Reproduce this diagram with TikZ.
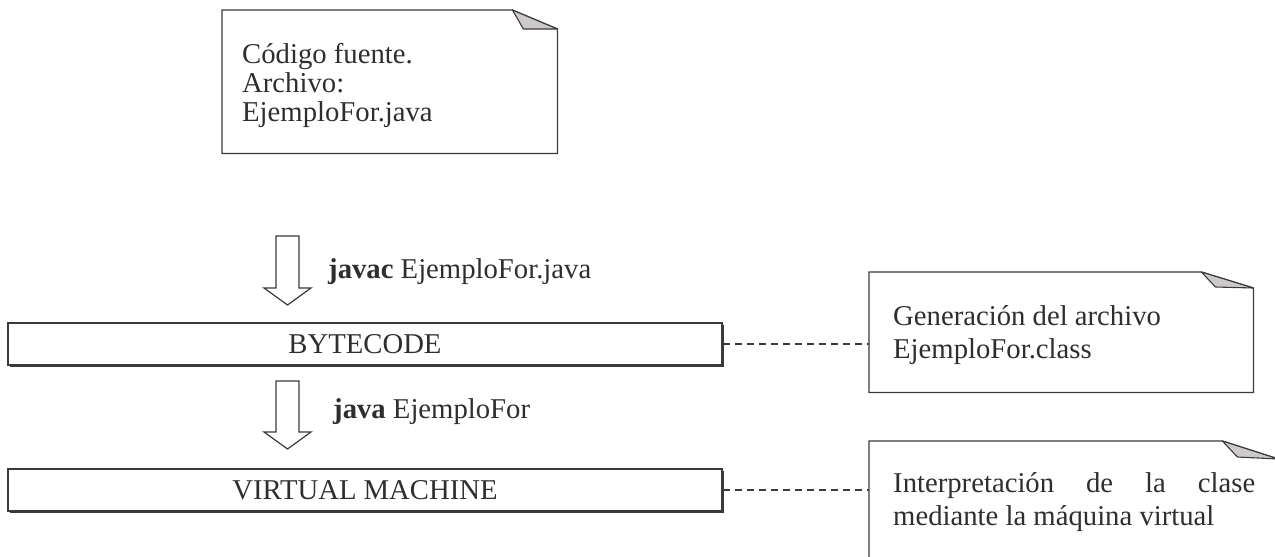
\documentclass[tikz,border=0pt]{standalone}
\usepackage{fontspec}
\setmainfont{Liberation Serif}
\usetikzlibrary{shadows}
\definecolor{ln}{HTML}{3A3A3E}
\definecolor{txt}{HTML}{2E2E30}
\definecolor{foldc}{HTML}{CFCACA}
\begin{document}
\begin{tikzpicture}[x=1pt,y=-1pt,
  font=\fontsize{28.7}{33}\selectfont, text=txt,
  boxnode/.style={draw=ln, line width=1.8pt, fill=white, minimum width=714pt, minimum height=42pt, inner sep=0pt,
    drop shadow={shadow xshift=2pt, shadow yshift=-2pt, fill=ln, opacity=1}},
  notearea/.style={draw=none, inner sep=0pt, anchor=north west},
  noteline/.style={draw=ln, line width=1.3pt, line join=miter},
  foldline/.style={draw=ln, line width=1.1pt, fill=foldc, line join=round},
  lbl/.style={anchor=base west, inner sep=0pt},
  dashline/.style={draw=ln, line width=1.2pt, dash pattern=on 7pt off 5pt},
  blockarrow/.style={draw=ln, line width=1.2pt, fill=white, line join=miter}
]
\useasboundingbox (0,0) rectangle (1275,557);
\clip (0,0) rectangle (1275,557);

% note 1
\node[notearea, minimum width=335pt, minimum height=143pt] (n1) at (222,10) {};
\draw[noteline] (n1.north west) -- ([xshift=-45pt]n1.north east) -- ([yshift=-19pt]n1.north east) -- (n1.south east) -- (n1.south west) -- cycle;
\draw[foldline] ([xshift=-45pt]n1.north east) -- ([xshift=-34pt,yshift=-19pt]n1.north east) -- ([yshift=-19pt]n1.north east) -- cycle;
\node[lbl] (t1a) at (242,63) {Código fuente.};
\node[lbl] (t1b) at (242,92) {Archivo:};
\node[lbl] (t1c) at (242,121) {EjemploFor.java};

% block arrows
\draw[blockarrow] (276,236) -- (299,236) -- (299,288) -- (311,288) -- (287.5,305) -- (264,288) -- (276,288) -- cycle;
\node[lbl] (l1) at (328,278) {\textbf{javac} EjemploFor.java};
\draw[blockarrow] (276,381) -- (299,381) -- (299,432) -- (311,432) -- (287.5,449) -- (264,432) -- (276,432) -- cycle;
\node[lbl] (l2) at (333,418) {\textbf{java} EjemploFor};

% boxes
\node[boxnode] (bc) at (365,344) {BYTECODE};
\node[boxnode] (vm) at (365,490) {VIRTUAL MACHINE};

% note 2
\node[notearea, minimum width=384pt, minimum height=120pt] (n2) at (869,272) {};
\draw[noteline] (n2.north west) -- ([xshift=-52pt]n2.north east) -- ([yshift=-16pt]n2.north east) -- (n2.south east) -- (n2.south west) -- cycle;
\draw[foldline] ([xshift=-52pt]n2.north east) -- ([xshift=-38pt,yshift=-15pt]n2.north east) -- ([yshift=-16pt]n2.north east) -- cycle;
\node[lbl] (t2a) at (893,325) {Generación del archivo};
\node[lbl] (t2b) at (893,358) {EjemploFor.class};

% note 3
\node[notearea, minimum width=409pt, minimum height=200pt] (n3) at (869,441) {};
\draw[noteline] (n3.north west) -- ([xshift=-56pt]n3.north east) -- ([yshift=-18pt]n3.north east) -- (n3.south east) -- (n3.south west) -- cycle;
\draw[foldline] ([xshift=-56pt]n3.north east) -- ([xshift=-41pt,yshift=-16pt]n3.north east) -- ([yshift=-18pt]n3.north east) -- cycle;
\node[lbl] (t3a) at (893,492) {\makebox[362pt][s]{Interpretación de la clase}};
\node[lbl] (t3b) at (893,525) {mediante la máquina virtual};

% dashed connectors
\draw[dashline] (bc.east) -- (bc.east -| n2.west);
\draw[dashline] (vm.east) -- (vm.east -| n3.west);
\end{tikzpicture}
\end{document}
